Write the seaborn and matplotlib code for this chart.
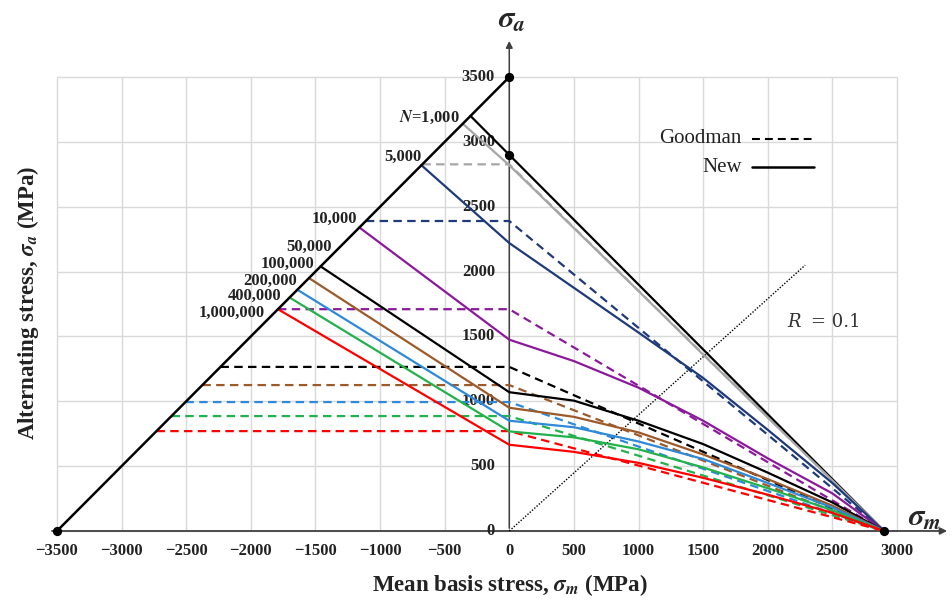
import matplotlib
matplotlib.use("Agg")
import matplotlib.pyplot as plt
import seaborn as sns
import pandas as pd

# ---------------- data ----------------
grid_m = [-3500, -3000, -2500, -2000, -1500, -1000, -500, 0, 500, 1000, 1500, 2000, 2500, 3000]
grid_a = [0, 500, 1000, 1500, 2000, 2500, 3000, 3500]
xtick_labels = ["\u22123500", "\u22123000", "\u22122500", "\u22122000", "\u22121500", "\u22121000", "\u2212500",
                "0", "500", "1000", "1500", "2000", "2500", "3000"]
ytick_labels = ["0", "500", "1000", "1500", "2000", "2500", "3000", "3500"]

boundary_m = [-3500, 0]
boundary_a = [0, 3500]
dots_m = [-3500, 0, 0, 2900]
dots_a = [0, 3500, 2900, 0]
r_line_m = [0, 2290]
r_line_a = [0, 2050]

sigma_u = 2900
sigma_m_right = [0, 500, 1000, 1500, 2000, 2500, 2900]

# "New" curves: start on the left boundary, then values at sigma_m_right
new_names = ["N1000", "N1000b", "N5000", "N10000", "N50000", "N100000", "N200000", "N400000", "N1000000"]
new_colors = ["#000000", "#a6a6a6", "#1f3a7a", "#8b1a9b", "#000000", "#9c5a2b", "#2e8ad8", "#22b14c", "#ff0000"]
new_start_m = [-300, -360, -680, -1160, -1460, -1550, -1640, -1700, -1790]
new_start_a = [3200, 3140, 2820, 2340, 2040, 1950, 1860, 1800, 1710]
new_n1000 = [2900, 2400, 1900, 1400, 900, 400, 0]
new_n1000b = [2820, 2335, 1850, 1360, 875, 390, 0]
new_n5000 = [2220, 1875, 1530, 1180, 780, 370, 0]
new_n10000 = [1475, 1310, 1105, 850, 560, 290, 0]
new_n50000 = [1070, 1005, 850, 670, 450, 220, 0]
new_n100000 = [950, 880, 760, 590, 400, 195, 0]
new_n200000 = [850, 800, 690, 555, 370, 180, 0]
new_n400000 = [768, 722, 630, 490, 330, 160, 0]
new_n1000000 = [665, 610, 525, 410, 280, 140, 0]
new_right = [new_n1000, new_n1000b, new_n5000, new_n10000, new_n50000,
             new_n100000, new_n200000, new_n400000, new_n1000000]

# Goodman lines: endurance value for each life
goodman_se = [2827, 2390, 1710, 1265, 1125, 994, 886, 770]
goodman_colors = ["#a6a6a6", "#1f3a7a", "#8b1a9b", "#000000", "#9c5a2b", "#2e8ad8", "#22b14c", "#ff0000"]

cycle_labels = ["$N$=1,000", "5,000", "10,000", "50,000", "100,000", "200,000", "400,000", "1,000,000"]
label_m = [-386, -680, -1175, -1375, -1507, -1646, -1762, -1893]
label_a = [3188, 2888, 2410, 2187, 2056, 1925, 1810, 1679]

# ---------------- style ----------------
sns.set_theme(style="white")
plt.rcParams["font.family"] = ["Liberation Serif", "DejaVu Serif"]
plt.rcParams["mathtext.fontset"] = "custom"
plt.rcParams["mathtext.it"] = "STIXGeneral:italic:bold"
plt.rcParams["mathtext.rm"] = "Liberation Serif:bold"
plt.rcParams["mathtext.bf"] = "Liberation Serif:bold"

fig = plt.figure(figsize=(9.52, 6.04), dpi=100)
ax = fig.add_axes([0, 0, 1, 1])
ax.set_xlim(-3941, 3426)
ax.set_ylim(-563, 4094)
ax.axis("off")

# grid
ax.vlines(grid_m, 0, 3500, color="#d9d9d9", lw=1.0, zorder=0)
ax.hlines(grid_a, -3500, 3000, color="#d9d9d9", lw=1.0, zorder=0)

# axes with arrows
ax.annotate("", xy=(3410, 0), xytext=(-3560, 0),
            arrowprops=dict(arrowstyle="-|>", color="#404040", lw=1.3, mutation_scale=10), zorder=2)
ax.annotate("", xy=(0, 3800), xytext=(0, 0),
            arrowprops=dict(arrowstyle="-|>", color="#404040", lw=1.1, mutation_scale=10), zorder=2)

# tick labels
for v, t in zip(grid_m, xtick_labels):
    ax.text(v, -155, t, ha="center", va="center", fontsize=12, fontweight="bold", color="#222222")
for v, t in zip(grid_a, ytick_labels):
    ax.text(-110, v, t, ha="right", va="center", fontsize=12, fontweight="bold", color="#222222")

dash = (0, (3.8, 2.4))

# Goodman dashed lines
for se, c in zip(goodman_se, goodman_colors):
    df = pd.DataFrame({"m": [se - 3500, 0, sigma_u], "a": [se, se, 0]})
    sns.lineplot(data=df, x="m", y="a", sort=False, estimator=None, color=c,
                 lw=1.6, linestyle=dash, ax=ax, zorder=3)

# New solid curves
for name, c, sm, sa, vals in zip(new_names, new_colors, new_start_m, new_start_a, new_right):
    df = pd.DataFrame({"m": [sm] + sigma_m_right, "a": [sa] + vals})
    sns.lineplot(data=df, x="m", y="a", sort=False, estimator=None, color=c,
                 lw=1.6, ax=ax, zorder=4)

# left boundary
sns.lineplot(x=boundary_m, y=boundary_a, sort=False, estimator=None, color="black", lw=1.8, ax=ax, zorder=5)
# R = 0.1 line
ax.plot(r_line_m, r_line_a, color="black", lw=1.0, linestyle=(0, (1, 1.2)), zorder=3)
ax.text(2150, 1610, "R", style="italic", fontsize=13, family="DejaVu Serif", ha="left", va="center", color="#333333")
ax.text(2335, 1610, "= 0.1", fontsize=13, family="DejaVu Serif", ha="left", va="center", color="#333333")

# dots
ax.scatter(dots_m, dots_a, s=32, color="black", zorder=6)

# cycle labels
for t, lm, la in zip(cycle_labels, label_m, label_a):
    ax.text(lm, la, t, ha="right", va="center", fontsize=12, fontweight="bold", color="#222222")

# legend
ax.text(1800, 3026, "Goodman", ha="right", va="center", fontsize=15, color="#222222")
ax.plot([1878, 2357], [3026, 3026], color="black", lw=1.5, linestyle=dash)
ax.text(1800, 2803, "New", ha="right", va="center", fontsize=15, color="#222222")
ax.plot([1878, 2357], [2803, 2803], color="black", lw=1.8)

# axis symbols
ax.text(15, 3935, r"$\sigma_a$", fontsize=22, ha="center", va="center")
ax.text(3210, 100, r"$\sigma_m$", fontsize=22, ha="center", va="center")

# axis titles
ax.text(0, -420, r"Mean basis stress, $\sigma_m$ (MPa)", fontsize=16.5, fontweight="bold",
        ha="center", va="center", color="#222222")
ax.text(-3724, 1756, r"Alternating stress, $\sigma_a$ (MPa)", fontsize=16.5, fontweight="bold",
        rotation=90, ha="center", va="center", color="#222222")

fig.savefig("out.png", dpi=100)
